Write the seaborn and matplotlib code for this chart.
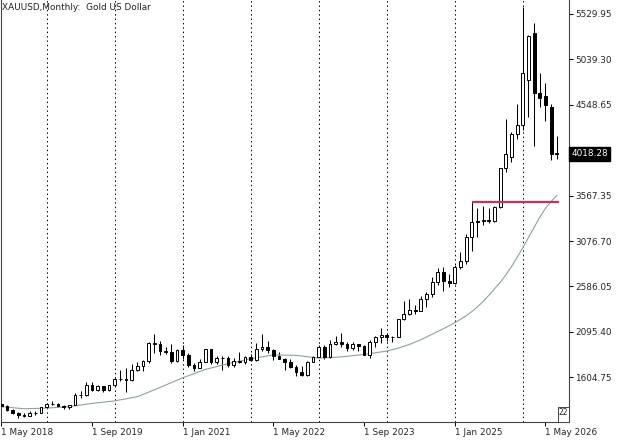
import pandas as pd
import matplotlib.pyplot as plt
import matplotlib.patches as mpatches
import seaborn as sns

# monthly candles, May 2018 .. Jul 2026
opens = [1315, 1298, 1253, 1224, 1201, 1192, 1215, 1222,
         1282, 1321, 1313, 1292, 1284, 1305, 1409, 1413, 1520, 1472, 1513, 1464,
         1517, 1589, 1585, 1577, 1686, 1730, 1781, 1975, 1968, 1886, 1879, 1776,
         1898, 1847, 1733, 1708, 1769, 1907, 1770, 1814, 1814, 1743, 1783, 1774,
         1829, 1797, 1909, 1937, 1897, 1837, 1807, 1766, 1711, 1660, 1633, 1768,
         1824, 1928, 1826, 1969, 1990, 1963, 1919, 1965, 1940, 1849, 1983, 2036,
         2063, 2039, 2044, 2230, 2286, 2327, 2326, 2447, 2503, 2634, 2744, 2643,
         2625, 2798, 2858, 3124, 3288, 3289, 3303, 3290, 3448, 3866, 3985, 4233,
         4331, 4817, 5325, 4676, 4644, 4525, 4028]
highs = [1326, 1309, 1266, 1225, 1214, 1243, 1237, 1284,
         1326, 1347, 1324, 1303, 1306, 1439, 1452, 1555, 1557, 1517, 1516, 1525,
         1611, 1689, 1704, 1747, 1765, 1789, 1984, 2075, 1992, 1933, 1965, 1906,
         1959, 1871, 1755, 1798, 1913, 1916, 1832, 1833, 1834, 1814, 1877, 1831,
         1853, 1974, 2070, 1998, 1910, 1879, 1814, 1808, 1735, 1730, 1786, 1833,
         1949, 1959, 2009, 2048, 2079, 1983, 1987, 1966, 1953, 2009, 2052, 2135,
         2088, 2052, 2236, 2431, 2450, 2387, 2483, 2531, 2685, 2790, 2801, 2726,
         2817, 2956, 3148, 3500, 3435, 3452, 3439, 3453, 3871, 4395, 4258, 4558,
         5605, 5300, 5433, 4892, 4784, 4558, 4212]
lows = [1282, 1245, 1211, 1160, 1180, 1182, 1196, 1221,
        1277, 1302, 1281, 1266, 1267, 1302, 1382, 1400, 1459, 1459, 1445, 1459,
        1517, 1563, 1451, 1568, 1670, 1671, 1757, 1863, 1848, 1860, 1764, 1775,
        1802, 1717, 1677, 1705, 1766, 1750, 1751, 1682, 1721, 1721, 1759, 1753,
        1780, 1780, 1890, 1872, 1787, 1805, 1681, 1709, 1615, 1617, 1616, 1765,
        1823, 1804, 1810, 1949, 1932, 1893, 1903, 1885, 1846, 1810, 1931, 1973,
        2002, 1984, 2039, 2228, 2277, 2286, 2319, 2364, 2471, 2604, 2536, 2583,
        2615, 2772, 2832, 2970, 3121, 3246, 3268, 3281, 3436, 3823, 3934, 4179,
        4280, 4414, 4104, 4525, 4374, 3953, 3963]
closes = [1298, 1253, 1224, 1201, 1192, 1215, 1222, 1282,
          1321, 1313, 1292, 1284, 1305, 1409, 1413, 1520, 1472, 1513, 1464, 1517,
          1589, 1585, 1577, 1686, 1730, 1781, 1975, 1968, 1886, 1879, 1776, 1898,
          1847, 1733, 1708, 1769, 1907, 1770, 1814, 1814, 1743, 1783, 1774, 1829,
          1797, 1909, 1937, 1897, 1837, 1807, 1766, 1711, 1660, 1633, 1768, 1824,
          1928, 1826, 1969, 1990, 1963, 1919, 1965, 1940, 1849, 1983, 2036, 2063,
          2039, 2044, 2230, 2286, 2327, 2326, 2447, 2503, 2634, 2744, 2643, 2625,
          2798, 2858, 3124, 3288, 3289, 3303, 3290, 3448, 3866, 4017, 4233, 4331,
          4892, 5292, 4676, 4622, 4547, 4017, 4018.28]

# moving average (month index -> price)
ma_idx = [0, 4, 8, 12, 16, 20, 24, 28, 32, 36, 40, 44, 48, 52, 56, 60, 64,
          68, 70, 72, 74, 76, 78, 80, 81, 82, 83, 84, 85, 86, 87, 88, 89, 90,
          91, 92, 93, 94, 95, 96, 97, 98]
ma_val = [1288, 1265, 1272, 1288, 1323, 1350, 1395, 1495, 1600, 1690, 1752,
          1805, 1847, 1842, 1812, 1825, 1852, 1888, 1920, 1960, 2010, 2070,
          2130, 2195, 2230, 2270, 2315, 2365, 2425, 2490, 2560, 2630, 2710,
          2800, 2900, 3005, 3115, 3225, 3335, 3430, 3505, 3570]

level_price = 3500
last_price = 4018.28
year_lines = [8, 20, 32, 44, 56, 68, 80, 92]
xtick_pos = [0, 16, 32, 48, 64, 80, 96]
xtick_lab = ['1 May 2018', '1 Sep 2019', '1 Jan 2021', '1 May 2022',
             '1 Sep 2023', '1 Jan 2025', '1 May 2026']
ytick_vals = [5529.95, 5039.30, 4548.65, 4058.00, 3567.35, 3076.70,
              2586.05, 2095.40, 1604.75]

df = pd.DataFrame({'o': opens, 'h': highs, 'l': lows, 'c': closes})
df['i'] = range(len(df))

sns.set_style('white')
plt.rcParams['font.family'] = ['DejaVu Sans']
fs = 6.4

fig = plt.figure(figsize=(6.25, 4.4), dpi=100)
ax = fig.add_axes([1 / 625, 18 / 440, 568 / 625, 422 / 440])

for x in year_lines:
    ax.axvline(x, color='black', lw=0.7, ls=(0, (1.5, 3)), zorder=1)

# wicks
ax.vlines(df['i'], df['l'], df['h'], color='black', lw=0.75, zorder=2)
# bodies
up = df['c'] >= df['o']
body = (df['c'] - df['o']).abs().clip(lower=4)
bottom = df[['o', 'c']].min(axis=1)
ax.bar(df['i'][up], body[up], bottom=bottom[up], width=0.5,
       color='white', edgecolor='black', linewidth=0.7, zorder=3)
ax.bar(df['i'][~up], body[~up], bottom=bottom[~up], width=0.5,
       color='black', edgecolor='black', linewidth=0.7, zorder=3)

sns.lineplot(x=ma_idx, y=ma_val, ax=ax, color='#8aa39d', lw=0.8, zorder=2)

ax.hlines(level_price, 83, 98.4, color='#cc2f5c', lw=1.6, zorder=4)

ax.set_xlim(-0.05, 100.15)
ax.set_ylim(1122, 5681)

ax.set_xticks(xtick_pos)
ax.set_xticklabels(xtick_lab, fontsize=fs, ha='left')
ax.yaxis.tick_right()
ax.set_yticks(ytick_vals)
# the 4058.00 label sits under the current-price box, so leave it blank
ax.set_yticklabels([f'{v:.2f}' if v != 4058.00 else '' for v in ytick_vals],
                   fontsize=fs)
ax.tick_params(axis='both', direction='out', length=3, width=0.7,
               color='black', pad=1.5, bottom=True, right=True, left=False)

for s in ['left', 'right', 'bottom']:
    ax.spines[s].set_visible(True)
    ax.spines[s].set_color('#444444')
    ax.spines[s].set_linewidth(0.8)
ax.spines['top'].set_visible(False)

ax.text(1.004, last_price, f'{last_price:.2f}', transform=ax.get_yaxis_transform(),
        color='white', fontsize=fs, va='center', ha='left', zorder=10,
        bbox=dict(boxstyle='square,pad=0.25', facecolor='black', edgecolor='black'),
        clip_on=False)

fig.text(2 / 625, 1 - 7 / 440, 'XAUUSD,Monthly:  Gold US Dollar',
         fontsize=fs, va='center', ha='left', color='#222222')

box = mpatches.Rectangle((558 / 625, 18 / 440), 11 / 625, 15 / 440,
                         transform=fig.transFigure, facecolor='white',
                         edgecolor='#444444', lw=0.7, zorder=5)
fig.patches.append(box)
fig.text(563.5 / 625, 1 - 412 / 440, '22', fontsize=5.5, ha='center',
         va='center', color='#222222', zorder=6)

plt.savefig('out.png', dpi=100)
